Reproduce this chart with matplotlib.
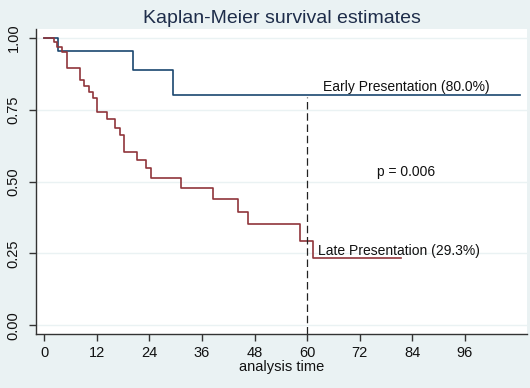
import matplotlib
matplotlib.use("Agg")
import matplotlib.pyplot as plt

early_t = [0, 3.2, 20.3, 29.3, 108.5]
early_s = [1.0, 0.952, 0.889, 0.80, 0.80]
late_t = [0, 2.1, 2.9, 4.0, 5.2, 8.2, 9.0, 10.1, 11.1, 12.1, 14.2, 16.2, 17.2, 18.3,
          21.2, 23.3, 24.3, 31.3, 38.4, 44.2, 46.4, 58.4, 61.4, 81.5]
late_s = [1.0, 0.984, 0.967, 0.950, 0.894, 0.854, 0.833, 0.811, 0.789, 0.741, 0.716,
          0.687, 0.661, 0.604, 0.575, 0.546, 0.512, 0.478, 0.439, 0.394, 0.351, 0.292,
          0.235, 0.235]
x_ticks = [0, 12, 24, 36, 48, 60, 72, 84, 96]
y_ticks = [0.0, 0.25, 0.5, 0.75, 1.0]
y_labels = ["0.00", "0.25", "0.50", "0.75", "1.00"]

plt.rcParams['font.family'] = ['Liberation Sans', 'DejaVu Sans']
bg = '#EAF2F3'
fig = plt.figure(figsize=(5.3, 3.88), dpi=100, facecolor=bg)
ax = fig.add_axes([36/530, 1-334/388, (527-36)/530, (334-29)/388])
ax.set_facecolor('white')

for y in y_ticks:
    ax.axhline(y, color=bg, lw=1.0, zorder=0)

ax.step(early_t, early_s, where='post', color='#1a476f', lw=1.2)
ax.step(late_t, late_s, where='post', color='#90353b', lw=1.2)
ax.plot([60, 60], [-0.03, 0.795], color='#222222', lw=0.9, dashes=(6, 3))

ax.text(63.6, 0.83, "Early Presentation (80.0%)", fontsize=10, va='center', ha='left', color='#111111')
ax.text(82.6, 0.533, "p = 0.006", fontsize=10, va='center', ha='center', color='#111111')
ax.text(62.5, 0.259, "Late Presentation (29.3%)", fontsize=10, va='center', ha='left', color='#111111')

ax.set_xlim(-1.9, 110.2)
ax.set_ylim(-0.030, 1.030)
ax.set_xticks(x_ticks)
ax.set_xticklabels([str(t) for t in x_ticks], fontsize=10.5)
ax.set_yticks(y_ticks)
ax.set_yticklabels(y_labels, fontsize=10.5, rotation=90, va='center')
ax.tick_params(direction='out', length=5, width=1, color='#333333', labelcolor='#111111')
ax.tick_params(axis='y', pad=6)
for s in ['top', 'right']:
    ax.spines[s].set_visible(False)
for s in ['left', 'bottom']:
    ax.spines[s].set_color('#333333')
    ax.spines[s].set_linewidth(1.0)
ax.set_xlabel("analysis time", fontsize=10.5, labelpad=0, color='#111111')
ax.set_title("Kaplan-Meier survival estimates", fontsize=14, color='#1e2d4a', pad=4)

fig.savefig("out.png", dpi=100, facecolor=bg)
